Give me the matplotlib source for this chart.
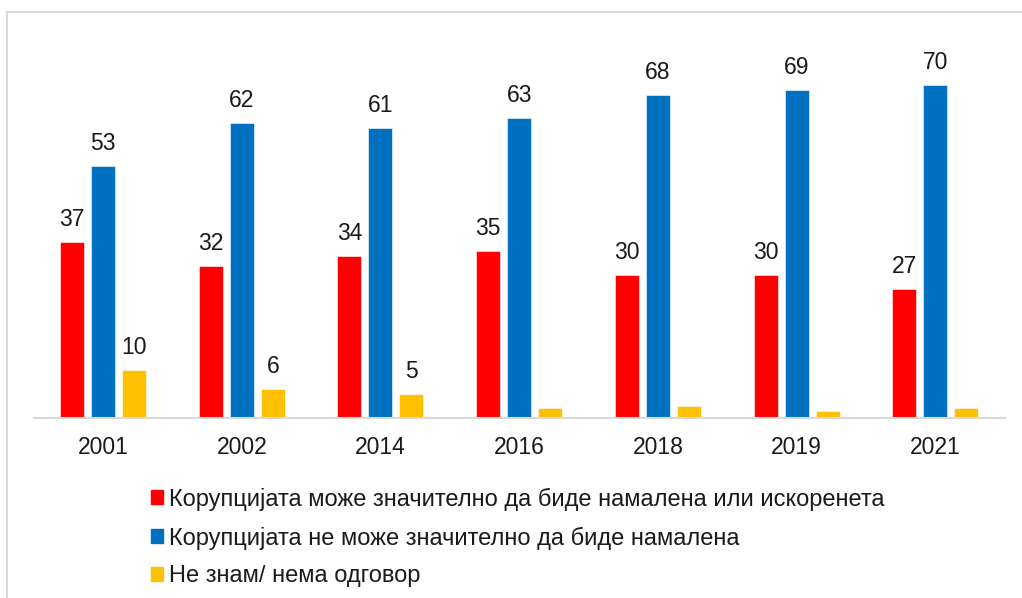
import numpy as np
import matplotlib
matplotlib.use("Agg")
import matplotlib.pyplot as plt
from matplotlib.patches import Patch, Rectangle

plt.rcParams['font.family'] = ['Liberation Sans', 'DejaVu Sans']

years = ['2001', '2002', '2014', '2016', '2018', '2019', '2021']
can_reduce = [37, 32, 34, 35, 30, 30, 27]
cannot_reduce = [53, 62, 61, 63, 68, 69, 70]
dont_know = [10, 6, 5, 2, 2.5, 1.5, 2]
dont_know_shown = [True, True, True, False, False, False, False]

series_names = ['Корупцијата може значително да биде намалена или искоренета',
                'Корупцијата не може значително да биде намалена',
                'Не знам/ нема одговор']
colors = ['#FF0000', '#0070C0', '#FFC000']

fig = plt.figure(figsize=(10.22, 5.98), dpi=100)
ax = fig.add_axes([0.033, 0.3015, 0.950, 0.6355])

# outer frame like the pasted chart box
fig.patches.append(Rectangle((7 / 1022, -0.1), 1.2, 1 - 12 / 598 + 0.1,
                             transform=fig.transFigure, fill=False,
                             edgecolor='#d9d9d9', linewidth=1.5))

x = np.arange(len(years))
w = 0.173
step = 0.2235
all_vals = [can_reduce, cannot_reduce, dont_know]
for i, (vals, c) in enumerate(zip(all_vals, colors)):
    bars = ax.bar(x + (i - 1) * step, vals, width=w, color=c,
                  edgecolor='white', linewidth=0.4)
    if i == 2:
        labels = [f'{v:g}' if s else '' for v, s in zip(vals, dont_know_shown)]
    else:
        labels = [f'{v:g}' for v in vals]
    ax.bar_label(bars, labels=labels, padding=8, fontsize=16.5, color='#1a1a1a')

ax.set_xlim(-0.5, len(years) - 0.5)
ax.set_ylim(0, 80)
ax.set_xticks(x)
ax.set_xticklabels(years, fontsize=16.5, color='#1a1a1a')
ax.tick_params(axis='x', length=0, pad=13)
ax.set_yticks([])
for s in ['top', 'right', 'left']:
    ax.spines[s].set_visible(False)
ax.spines['bottom'].set_color('#d9d9d9')
ax.spines['bottom'].set_linewidth(1.5)

handles = [Patch(color=c) for c in colors]
fig.legend(handles, series_names, loc='upper left',
           bbox_to_anchor=(142 / 1022, 1 - 478 / 598), frameon=False,
           fontsize=17, handlelength=0.5, handleheight=0.5,
           handletextpad=0.25, labelspacing=0.67, borderaxespad=0,
           labelcolor='#1a1a1a')

fig.savefig('out.png', dpi=100)
